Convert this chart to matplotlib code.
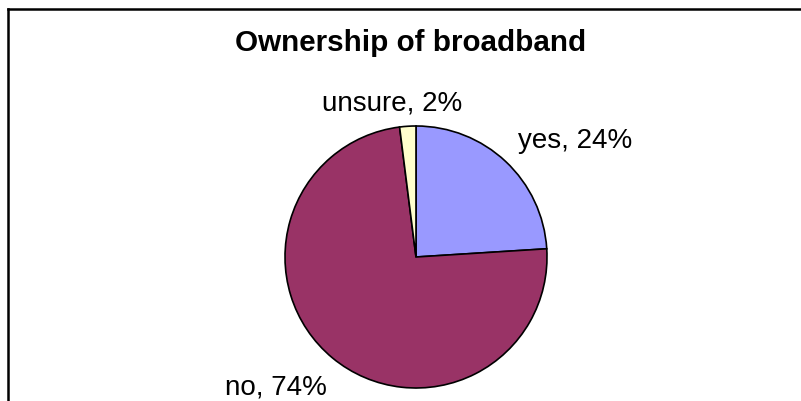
import matplotlib
matplotlib.use("Agg")
import matplotlib.pyplot as plt
from matplotlib.lines import Line2D

categories = ["yes", "no", "unsure"]
values = [24, 74, 2]
colors = ["#9999FF", "#993366", "#FFFFCC"]
title = "Ownership of broadband"

W, H = 801, 402
fig = plt.figure(figsize=(W / 100, H / 100), dpi=100)
fig.patch.set_facecolor("white")
plt.rcParams['font.family'] = ['Liberation Sans', 'DejaVu Sans']

cx, cy, r = 416, 258, 131
ax = fig.add_axes([(cx - r) / W, (H - cy - r) / H, 2 * r / W, 2 * r / H])
ax.pie(values, colors=colors, startangle=90, counterclock=False,
       wedgeprops=dict(edgecolor="black", linewidth=1.2))
ax.set_xlim(-1, 1)
ax.set_ylim(-1, 1)
ax.set_aspect("equal")
ax.axis("off")

# label positions in pie data coordinates
label_pos = {"yes": (1.214, 0.893), "no": (-1.069, -0.992), "unsure": (-0.183, 1.176)}
for cat, val in zip(categories, values):
    x, y = label_pos[cat]
    ax.text(x, y, f"{cat}, {val}%", ha="center", va="center", fontsize=20,
            color="black", clip_on=False)

fig.text(411 / W, 1 - 43 / H, title, ha="center", va="center",
         fontsize=21.3, fontweight="bold")

# frame lines (top and left)
fig.add_artist(Line2D([8 / W, 1], [1 - 9.5 / H, 1 - 9.5 / H], color="black", linewidth=1.8, transform=fig.transFigure))
fig.add_artist(Line2D([8 / W, 8 / W], [0, 1 - 9.5 / H], color="black", linewidth=1.8, transform=fig.transFigure))

fig.savefig("out.png", dpi=100)
